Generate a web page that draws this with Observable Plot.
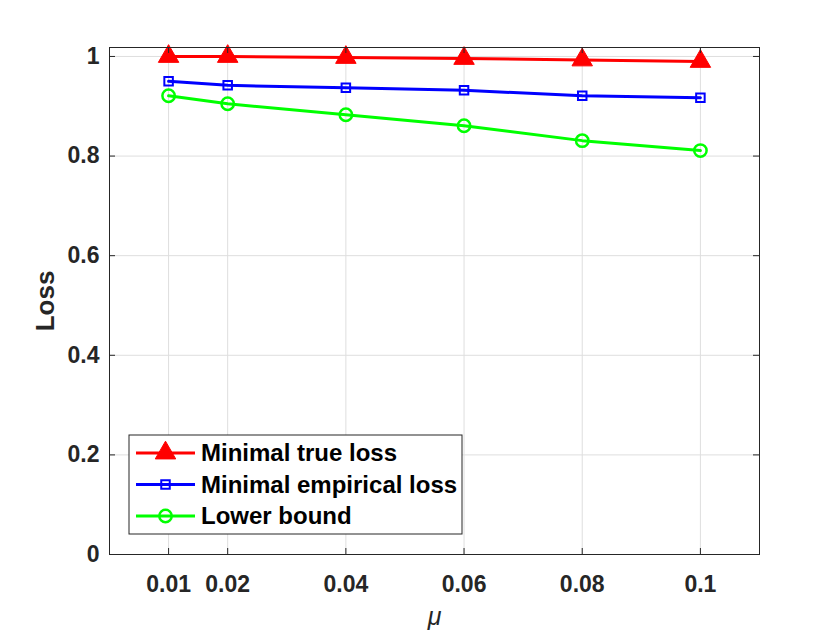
<!DOCTYPE html>
<html><head><meta charset="utf-8">
<script src="https://cdn.jsdelivr.net/npm/d3@7"></script>
<script src="https://cdn.jsdelivr.net/npm/@observablehq/plot@0.6"></script>
<style>
body{margin:0;background:#fff}
#wrap{position:relative;width:840px;height:630px}
</style>
</head><body><div id="wrap"></div>
<script>
// ---- data ----
const mu = [0.01, 0.02, 0.04, 0.06, 0.08, 0.1];
const trueLoss = [1.000, 1.000, 0.998, 0.996, 0.993, 0.990];
const empLoss = [0.950, 0.942, 0.937, 0.932, 0.921, 0.917];
const lowerBound = [0.921, 0.905, 0.883, 0.861, 0.831, 0.811];
const yTicks = [0, 0.2, 0.4, 0.6, 0.8, 1];
const seriesNames = ["Minimal true loss", "Minimal empirical loss", "Lower bound"];
const seriesColors = ["#ff0000", "#0000ff", "#00ff00"];
const seriesSymbols = ["triangle", "square", "circle"];
const xDomain = [0, 0.11];
const yDomain = [0, 1.018];

const values = [trueLoss, empLoss, lowerBound];
const rows = [];
values.forEach((arr, s) => arr.forEach((v, i) => rows.push({mu: mu[i], loss: v, s})));

const W = 840, H = 630, mL = 109, mR = 81, mT = 47, mB = 76;
const tick = 6;
const dyTick = tick * (yDomain[1] - yDomain[0]) / (H - mT - mB);
const dxTick = tick * (xDomain[1] - xDomain[0]) / (W - mL - mR);
const axisColor = "#262626";
const gridColor = "#dedede";
const font = "Liberation Sans, Arial, Helvetica, sans-serif";

const markerOpts = [
  {symbol: "triangle", r: 7.6, fill: seriesColors[0], stroke: seriesColors[0], strokeWidth: 1},
  {symbol: "square", r: 4.8, fill: "none", stroke: seriesColors[1], strokeWidth: 2},
  {symbol: "circle", r: 6.2, fill: "none", stroke: seriesColors[2], strokeWidth: 2.5}
];

const marks = [
  Plot.ruleX(mu, {x: d => d, stroke: gridColor, strokeWidth: 1}),
  Plot.ruleY(yTicks, {y: d => d, stroke: gridColor, strokeWidth: 1}),
];
[0, 1, 2].forEach(s => {
  const d = rows.filter(r => r.s === s);
  marks.push(Plot.line(d, {x: "mu", y: "loss", stroke: seriesColors[s], strokeWidth: 3}));
  marks.push(Plot.dot(d, {x: "mu", y: "loss", ...markerOpts[s]}));
});
marks.push(
  Plot.frame({stroke: axisColor, strokeWidth: 1}),
  Plot.ruleX(mu, {x: d => d, y1: yDomain[0], y2: yDomain[0] + dyTick, stroke: axisColor}),
  Plot.ruleX(mu, {x: d => d, y1: yDomain[1] - dyTick, y2: yDomain[1], stroke: axisColor}),
  Plot.ruleY(yTicks, {y: d => d, x1: xDomain[0], x2: xDomain[0] + dxTick, stroke: axisColor}),
  Plot.ruleY(yTicks, {y: d => d, x1: xDomain[1] - dxTick, x2: xDomain[1], stroke: axisColor}),
  Plot.axisX(mu, {tickSize: 0, tickPadding: 21, fontSize: 23, fontWeight: "bold", fill: axisColor, tickFormat: d => String(d), label: null}),
  Plot.axisY(yTicks, {tickSize: 0, tickPadding: 10, fontSize: 23, fontWeight: "bold", fill: axisColor, tickFormat: d => String(d), label: null}),
  Plot.text(["Loss"], {frameAnchor: "left", dx: -64, rotate: -90, textAnchor: "middle", lineAnchor: "middle", fontSize: 26, fontWeight: "bold", fill: axisColor}),
  Plot.text(["μ"], {frameAnchor: "bottom", dy: 70, textAnchor: "middle", lineAnchor: "bottom", fontSize: 25, fontStyle: "italic", fill: axisColor})
);

const chart = Plot.plot({
  width: W, height: H,
  marginLeft: mL, marginRight: mR, marginTop: mT, marginBottom: mB,
  x: {domain: xDomain},
  y: {domain: yDomain},
  style: {fontFamily: font, background: "#fff"},
  marks
});
document.getElementById("wrap").appendChild(chart);

// ---- legend ----
const svg = d3.select(chart);
const lg = svg.append("g").attr("transform", "translate(129,435)").attr("text-anchor", "start");
lg.append("rect").attr("width", 333).attr("height", 99).attr("fill", "#fff").attr("stroke", axisColor).attr("stroke-width", 1);
const d3sym = {triangle: d3.symbolTriangle, square: d3.symbolSquare, circle: d3.symbolCircle};
seriesNames.forEach((name, s) => {
  const y = 18 + s * 31.5;
  lg.append("line").attr("x1", 7).attr("x2", 66).attr("y1", y).attr("y2", y)
    .attr("stroke", seriesColors[s]).attr("stroke-width", 3);
  const m = markerOpts[s];
  lg.append("path").attr("transform", `translate(36.5,${y})`)
    .attr("d", d3.symbol(d3sym[m.symbol], m.r * m.r * Math.PI)())
    .attr("fill", m.fill).attr("stroke", m.stroke).attr("stroke-width", m.strokeWidth);
  lg.append("text").attr("x", 72).attr("y", y).attr("dy", "0.35em")
    .attr("text-anchor", "start")
    .attr("font-size", 24).attr("font-weight", "bold").attr("fill", "#000")
    .attr("font-family", font).text(name);
});
</script>
</body></html>
